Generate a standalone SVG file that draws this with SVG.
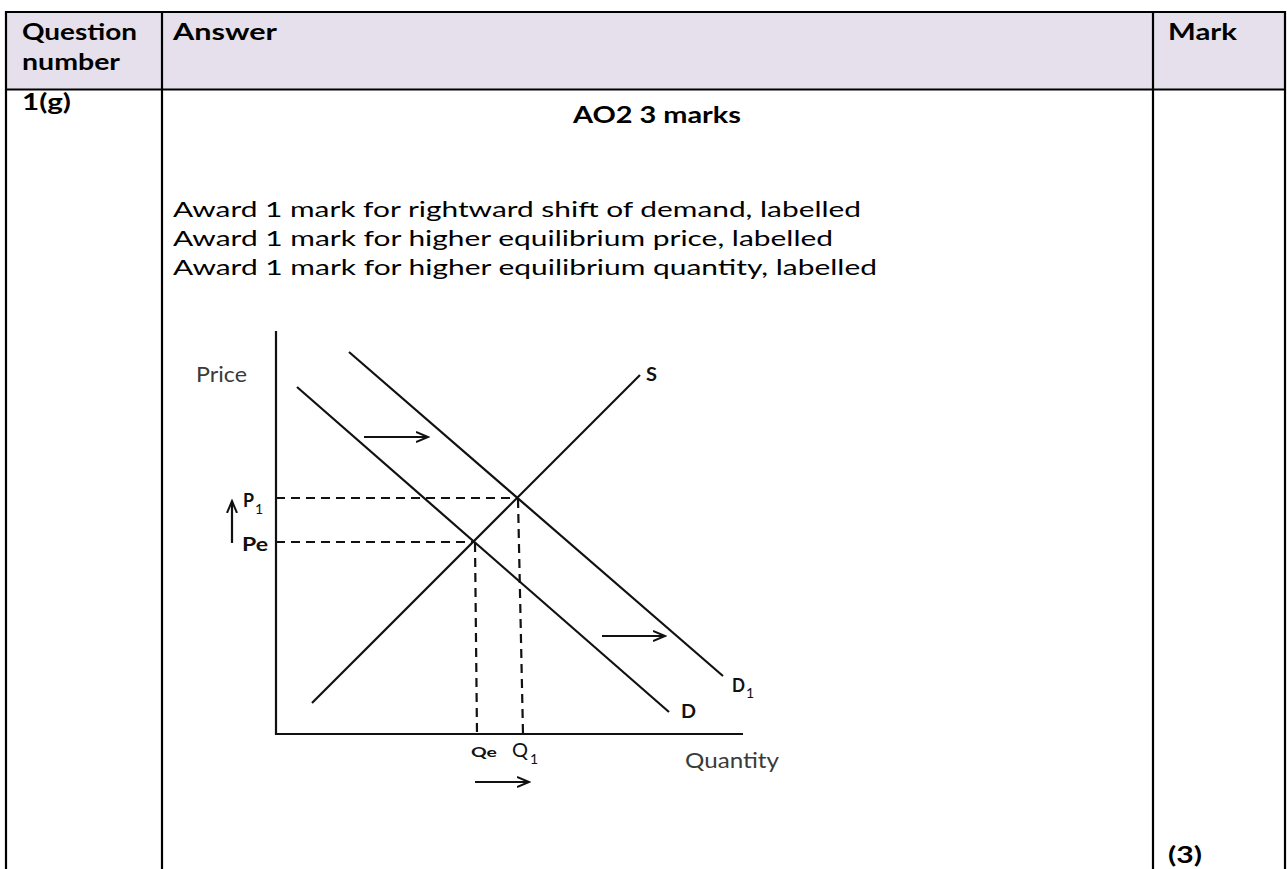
<svg xmlns="http://www.w3.org/2000/svg" width="1287" height="869" viewBox="0 0 1287 869">
<style>
.cell{font-family:Lato,"Open Sans","Liberation Sans",sans-serif;font-size:22px;fill:#000}
.b{font-weight:bold}
.ax{font-family:Lato,"Open Sans","Liberation Sans",sans-serif;font-size:22px;fill:#3a3a3a}
.lab{font-family:Lato,"Open Sans","Liberation Sans",sans-serif;font-weight:bold;fill:#111}
.sub{font-family:Lato,"Open Sans","Liberation Sans",sans-serif;font-size:14px;fill:#111}
.ln{stroke:#111;stroke-width:2.2;fill:none}
.ds{stroke:#111;stroke-width:2.2;fill:none;stroke-dasharray:9 6}
.grid{stroke:#000;stroke-width:2.2;fill:none}
</style>
<defs>
<marker id="arr" markerWidth="14" markerHeight="12" refX="12" refY="6" orient="auto" markerUnits="userSpaceOnUse">
<path d="M0,1 L12,6 L0,11" fill="none" stroke="#111" stroke-width="2"/>
</marker>
</defs>
<rect width="1287" height="869" fill="#fff"/>
<g id="table">
<rect x="6" y="12" width="1279" height="77.5" fill="#E5E0EC"/>
<path class="grid" d="M6,869 V12 H1285 V869 M162,12 V869 M1153,12 V869 M6,89.5 H1285"/>
</g>
<g id="header">
<text class="cell b" x="22" y="40" textLength="115" lengthAdjust="spacingAndGlyphs">Question</text>
<text class="cell b" x="22" y="70" textLength="98" lengthAdjust="spacingAndGlyphs">number</text>
<text class="cell b" x="173" y="40" textLength="104" lengthAdjust="spacingAndGlyphs">Answer</text>
<text class="cell b" x="1168" y="40" textLength="69" lengthAdjust="spacingAndGlyphs">Mark</text>
</g>
<g id="row">
<text class="cell b" x="22" y="110" textLength="49" lengthAdjust="spacingAndGlyphs">1(g)</text>
<text class="cell b" x="573" y="123" textLength="168" lengthAdjust="spacingAndGlyphs">AO2 3 marks</text>
<text class="cell" x="173" y="217" textLength="688" lengthAdjust="spacingAndGlyphs">Award 1 mark for rightward shift of demand, labelled</text>
<text class="cell" x="173" y="246" textLength="660" lengthAdjust="spacingAndGlyphs">Award 1 mark for higher equilibrium price, labelled</text>
<text class="cell" x="173" y="275" textLength="704" lengthAdjust="spacingAndGlyphs">Award 1 mark for higher equilibrium quantity, labelled</text>
<text class="cell b" x="1168" y="863" textLength="34" lengthAdjust="spacingAndGlyphs">(3)</text>
</g>
<g id="axes">
<path class="ln" d="M276,331 V734 H743"/>
<text class="ax" x="196" y="382" textLength="51" lengthAdjust="spacingAndGlyphs">Price</text>
<text class="ax" x="685" y="768" textLength="94" lengthAdjust="spacingAndGlyphs">Quantity</text>
</g>
<g id="curve-D">
<line class="ln" x1="297" y1="387" x2="669" y2="712"/>
<text class="lab" x="681" y="718" font-size="19" textLength="15" lengthAdjust="spacingAndGlyphs">D</text>
</g>
<g id="curve-D1">
<line class="ln" x1="349" y1="352" x2="723" y2="676"/>
<text class="lab" x="732" y="692" font-size="19" textLength="13" lengthAdjust="spacingAndGlyphs">D</text>
<text class="sub" x="746" y="698">1</text>
</g>
<g id="curve-S">
<line class="ln" x1="312" y1="703" x2="640" y2="375"/>
<text class="lab" x="646" y="381" font-size="19" textLength="11" lengthAdjust="spacingAndGlyphs">S</text>
</g>
<g id="labels">
<text class="lab" x="243" y="507" font-size="19" textLength="11" lengthAdjust="spacingAndGlyphs">P</text>
<text class="sub" x="255" y="514">1</text>
<text class="lab" x="242" y="551" font-size="18" font-weight="900" textLength="26" lengthAdjust="spacingAndGlyphs">Pe</text>
<text class="lab" x="471" y="757" font-size="14" font-weight="900" textLength="26" lengthAdjust="spacingAndGlyphs">Qe</text>
<text x="512" y="757" font-family="Lato,'Open Sans',sans-serif" font-size="19" fill="#111" textLength="16" lengthAdjust="spacingAndGlyphs">Q</text>
<text class="sub" x="530" y="764">1</text>
</g>
<g id="connectors">
<line class="ds" x1="276" y1="498" x2="518" y2="498"/>
<line class="ds" x1="276" y1="542" x2="474" y2="542"/>
<line class="ds" x1="475" y1="543" x2="477" y2="734"/>
<line class="ds" x1="518" y1="499" x2="523" y2="734"/>
<line class="ln" x1="364" y1="437" x2="428" y2="437" marker-end="url(#arr)"/>
<line class="ln" x1="602" y1="636" x2="665" y2="636" marker-end="url(#arr)"/>
<line class="ln" x1="475" y1="782" x2="529" y2="782" marker-end="url(#arr)"/>
<line class="ln" x1="232" y1="543" x2="232" y2="501" marker-end="url(#arr)"/>
</g>
</svg>
